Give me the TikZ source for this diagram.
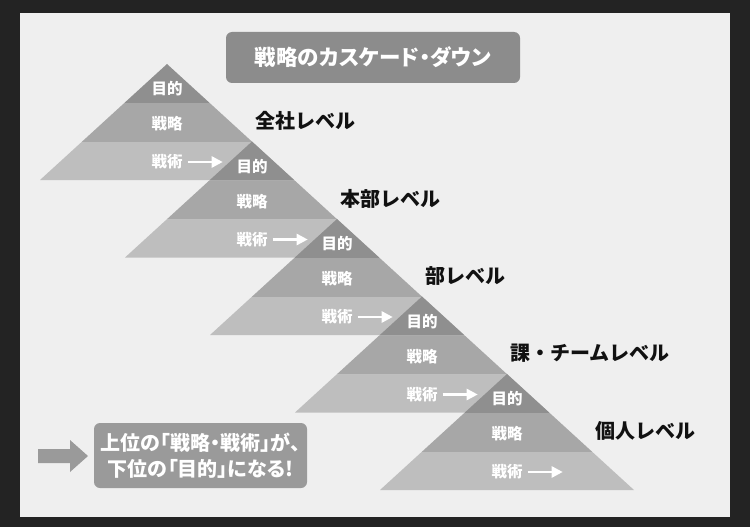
\documentclass[tikz,border=0pt]{standalone}
\usepackage{fontspec}
\setmainfont{Noto Sans CJK JP}
\newfontfamily\jpprop{Noto Sans CJK JP}[RawFeature=+palt]
\usetikzlibrary{arrows.meta}
\definecolor{outerbg}{HTML}{232323}
\definecolor{panelbg}{HTML}{EFEFEF}
\definecolor{bandA}{HTML}{8F8F8F}
\definecolor{bandB}{HTML}{A7A7A7}
\definecolor{bandC}{HTML}{BEBEBE}
\definecolor{boxgrey}{HTML}{8C8C8C}
\definecolor{callgrey}{HTML}{9A9A9A}
\definecolor{labelblack}{HTML}{111111}
\tikzset{
  bandtext/.style={text=white,font=\fontsize{15.5}{18}\selectfont\bfseries,inner sep=0pt},
  leveltext/.style={text=labelblack,font=\fontsize{20}{22}\selectfont\bfseries,anchor=west,inner sep=0pt},
  whitearrow/.style={draw=white,line width=2.6pt,-{Triangle[length=11pt,width=11pt]}},
}
\begin{document}
\begin{tikzpicture}[x=1pt,y=-1pt]
\useasboundingbox (0,0) rectangle (750,527);
\fill[outerbg] (0,0) rectangle (750,527);
\fill[panelbg] (20,13) rectangle (730,517);
% title
\node[fill=boxgrey,rounded corners=6pt,minimum width=294pt,minimum height=51pt,text=white,
      font=\jpprop\fontsize{21.5}{24}\selectfont\bfseries] (title) at (373,57.5) {戦略のカスケード・ダウン};
% pyramids
\foreach \i/\lab in {0/全社レベル,1/本部レベル,2/部レベル,3/課・チームレベル,4/個人レベル}{
  \pgfmathsetmacro\ax{167+85*\i}
  \pgfmathsetmacro\ay{64+77.5*\i}
  \fill[bandA] (\ax,\ay) -- (\ax+42.7,\ay+39) -- (\ax-42.7,\ay+39) -- cycle;
  \fill[bandB] (\ax-42.7,\ay+39) -- (\ax+42.7,\ay+39) -- (\ax+85.4,\ay+78) -- (\ax-85.4,\ay+78) -- cycle;
  \fill[bandC] (\ax-85.4,\ay+78) -- (\ax+85.4,\ay+78) -- (\ax+127,\ay+116) -- (\ax-127,\ay+116) -- cycle;
  \node[bandtext] (goal\i) at (\ax,\ay+25) {目的};
  \node[bandtext] (strat\i) at (\ax,\ay+60) {戦略};
  \node[bandtext] (tac\i) at (\ax,\ay+98) {戦術};
  \draw[whitearrow] ([xshift=5pt]tac\i.east) -- ([xshift=40pt]tac\i.east);
  \node[leveltext] (level\i) at (\ax+88,\ay+57) {\lab};
}
% legend
\fill[callgrey] (38,449) -- (70,449) -- (70,440) -- (88,456) -- (70,472) -- (70,463) -- (38,463) -- cycle;
\node[fill=callgrey,rounded corners=6pt,minimum width=213pt,minimum height=65pt,text=white,
      align=center,font=\jpprop\fontsize{20}{26}\selectfont\bfseries] (callout) at (200.5,455.5)
      {上位の「戦略・戦術」が、\\下位の「目的」になる!};
\end{tikzpicture}
\end{document}
